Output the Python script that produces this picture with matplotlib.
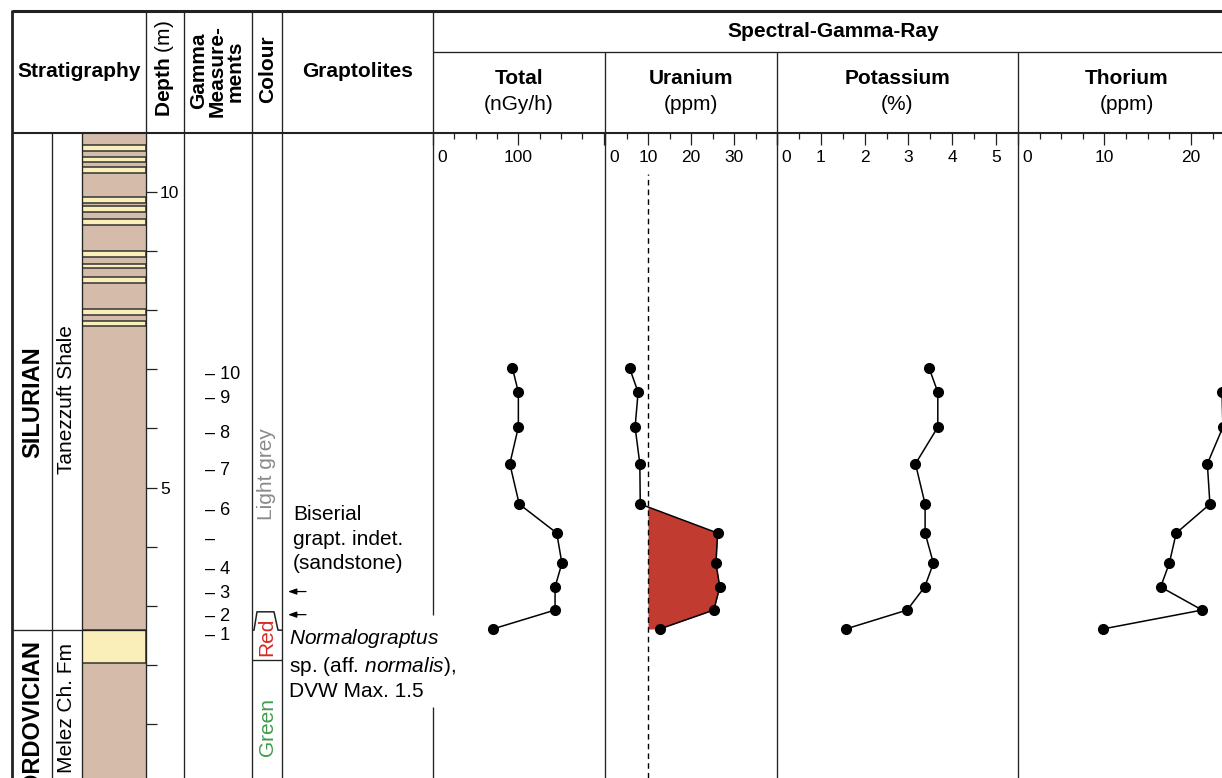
import numpy as np
import matplotlib
matplotlib.use("Agg")
import matplotlib.pyplot as plt
import matplotlib.transforms as mtransforms

plt.rcParams["font.family"] = ["Liberation Sans", "DejaVu Sans"]
plt.rcParams["mathtext.fontset"] = "custom"
plt.rcParams["mathtext.rm"] = "Liberation Sans"
plt.rcParams["mathtext.it"] = "Liberation Sans:italic"
plt.rcParams["mathtext.bf"] = "Liberation Sans:bold"

# gamma measurements, listed from the lowest (1) to the highest (10)
sample_labels = ["1", "2", "3", "4", "", "6", "7", "8", "9", "10"]
sample_depth = [2.61, 2.93, 3.32, 3.72, 4.23, 4.72, 5.40, 6.02, 6.61, 7.02]
total = [70, 143, 143, 151, 145, 101, 90, 100, 100, 93]
uranium = [12.7, 25.3, 26.7, 25.8, 26.2, 8.2, 8.1, 7.0, 7.7, 5.7]
potassium = [1.57, 2.97, 3.37, 3.57, 3.38, 3.38, 3.16, 3.67, 3.67, 3.47]
thorium = [9.8, 21.3, 16.5, 17.5, 18.3, 22.2, 21.9, 23.7, 23.6, 24.5]
arrow_samples = ["3", "2"]
uranium_threshold = 10
uranium_threshold_top = 10.3

# lithology: sandstone beds (bottom, top) in m, rest is shale
sand_beds = [(10.69, 10.79), (10.49, 10.59), (10.32, 10.42), (9.81, 9.90),
             (9.65, 9.75), (9.44, 9.54), (8.90, 8.99), (8.70, 8.78),
             (8.46, 8.56), (7.92, 8.02), (7.72, 7.82), (2.04, 2.59)]
boundary_depth = 2.59
era_names = ["ORDOVICIAN", "SILURIAN"]
era_label_depth = [1.15, 6.44]
formation_names = ["Melez Ch. Fm", "Tanezzuft Shale"]
formation_label_depth = [1.28, 6.48]
depth_major = [0, 5, 10]

colour_names = ["Green", "Red", "Light grey"]
colour_values = ["#3f9d4b", "#d42b22", "#8a8a8a"]
colour_label_depth = [0.96, 2.47, 5.23]
red_base = 2.09
red_top = 2.90

note_biserial = "Biserial\ngrapt. indet.\n(sandstone)"
note_biserial_depth = 4.13
note_normalo = "$\\mathit{Normalograptus}$\nsp. (aff. $\\mathit{normalis}$),\nDVW Max. 1.5"
note_normalo_depth = 2.02

W, H, DPI = 1222, 778, 100
HEAD_TOP, HEAD_MID, HEAD_BOT = 11, 52, 133
PX_PER_M = 59.2
DEPTH_ZERO_PX = 783.5
DEPTH_TOP = (DEPTH_ZERO_PX - HEAD_BOT) / PX_PER_M
DEPTH_BOTTOM = (DEPTH_ZERO_PX - H) / PX_PER_M

LINE = "#222222"
THIN = 0.95
SHALE = "#d5bcaa"
SAND = "#faefb9"

fig = plt.figure(figsize=(W / DPI, H / DPI), dpi=DPI)


def column_axes(x0, x1):
    ax = fig.add_axes([x0 / W, 0, (x1 - x0) / W, (H - HEAD_BOT) / H])
    ax.patch.set_visible(False)
    for s in ax.spines.values():
        s.set_visible(False)
    return ax


# lithology column with depth scale
lith = column_axes(82, 146)
lith.axhspan(DEPTH_BOTTOM, DEPTH_TOP, color=SHALE, lw=0)
for bottom, top in sand_beds:
    lith.axhspan(bottom, top, facecolor=SAND, edgecolor="#333333", lw=1.1)
lith.set_xticks([])
lith.yaxis.tick_right()
lith.set_yticks(depth_major)
lith.set_yticks([d for d in range(11) if d % 5], minor=True)
lith.tick_params(axis="y", which="both", direction="out", length=8, width=0.9,
                 labelsize=12.5, pad=2, color=LINE)
# set_yticks widens the view, so fix the depth range afterwards
lith.set_ylim(DEPTH_BOTTOM, DEPTH_TOP)

# spectral gamma ray panels
panels = [
    (433, 605, (0, 201.5), total, [0, 100, 200], np.arange(25, 200, 25), [0, 100]),
    (605, 777, (0, 40), uranium, [0, 10, 20, 30, 40], [5, 15, 25, 35], [0, 10, 20, 30]),
    (777, 1018, (0, 5.5), potassium, [0, 1, 2, 3, 4, 5], np.arange(0.5, 5.5, 1), [0, 1, 2, 3, 4, 5]),
    (1018, 1235, (0, 25.1), thorium, [0, 10, 20], [2.5, 5, 7.5, 12.5, 15, 17.5, 22.5, 25], [0, 10, 20]),
]
panel_axes = []
for x0, x1, xlim, values, major, minor, labels in panels:
    ax = column_axes(x0, x1)
    ax.set_yticks([])
    ax.set_xticks(major)
    ax.set_xticks(minor, minor=True)
    ax.set_xlim(*xlim)
    ax.set_ylim(DEPTH_BOTTOM, DEPTH_TOP)
    ax.tick_params(axis="x", which="both", top=True, bottom=False, labeltop=False,
                   labelbottom=False, direction="in", width=0.9, color=LINE)
    ax.tick_params(axis="x", which="major", length=8.6)
    ax.tick_params(axis="x", which="minor", length=4.3)
    lab_tr = mtransforms.offset_copy(ax.get_xaxis_transform(), fig=fig, y=-23, units="dots")
    zero_tr = mtransforms.offset_copy(ax.get_xaxis_transform(), fig=fig, x=4.4, y=-23, units="dots")
    for v in labels:
        if v == 0:
            ax.text(v, 1, "0", transform=zero_tr, ha="left", va="center_baseline", fontsize=12.5)
        else:
            ax.text(v, 1, f"{v:g}", transform=lab_tr, ha="center", va="center_baseline", fontsize=12.5)
    ax.plot(values, sample_depth, "-o", color="black", lw=1.1, ms=7, zorder=3)
    panel_axes.append(ax)

ax_u = panel_axes[1]
u = np.array(uranium)
ax_u.fill_betweenx(sample_depth, uranium_threshold, u, where=u > uranium_threshold,
                   interpolate=True, color="#c23b31", lw=0, zorder=1)
ax_u.plot([uranium_threshold, uranium_threshold], [DEPTH_BOTTOM, uranium_threshold_top],
          ls=(0, (4, 3)), lw=1, color="black", zorder=2)

# table frame, headers and depth-bound annotations
bg = fig.add_axes([0, 0, 1, 1], zorder=5)
bg.set_xlim(0, W)
bg.set_ylim(H, 0)
bg.autoscale(False)
bg.axis("off")
depth_tr = mtransforms.blended_transform_factory(bg.transData, lith.transData)


def seg(xs, ys, lw=THIN, **kw):
    bg.plot(xs, ys, color=LINE, lw=lw, solid_capstyle="butt", **kw)


seg([12, W], [HEAD_TOP, HEAD_TOP], lw=2.2)
seg([12, 12], [HEAD_TOP - 1, H], lw=2.0)
seg([12, W], [HEAD_BOT, HEAD_BOT], lw=1.5)
seg([433, W], [HEAD_MID, HEAD_MID])
for x in [146, 184, 252, 282]:
    seg([x, x], [HEAD_TOP, H])
for x in [52, 82]:
    seg([x, x], [HEAD_BOT, H])
for x in [605, 777, 1018]:
    seg([x, x], [HEAD_MID, H])
seg([433, 433], [HEAD_TOP, 615])
seg([433, 433], [707, H])

seg([12, 146], [boundary_depth, boundary_depth], transform=depth_tr)
seg([252, 282], [red_base, red_base], transform=depth_tr)
seg([252, 254, 257, 274, 278, 282],
    [boundary_depth, boundary_depth, red_top, red_top, boundary_depth, boundary_depth],
    lw=1.1, transform=depth_tr)

# depth 0 sits just below the cut edge, only its top shows
bg.text(159, depth_major[0], "0", transform=depth_tr, ha="left",
        va="center_baseline", fontsize=12.5)

hb = dict(fontsize=15, fontweight="bold", ha="center", va="center")
bg.text(79.5, 71, "Stratigraphy", **hb)
bg.text(165, 69, "$\\mathbf{Depth}$ (m)", rotation=90, fontsize=15, ha="center", va="center")
bg.text(217, 71, "Gamma\nMeasure-\nments", rotation=90, linespacing=0.95,
        multialignment="center", **hb)
bg.text(268, 69, "Colour", rotation=90, **hb)
bg.text(357.5, 71, "Graptolites", **hb)
bg.text(833, 31, "Spectral-Gamma-Ray", **hb)
for (x0, x1), name, unit in zip([(433, 605), (605, 777), (777, 1018), (1018, 1235)],
                                ["Total", "Uranium", "Potassium", "Thorium"],
                                ["(nGy/h)", "(ppm)", "(%)", "(ppm)"]):
    bg.text((x0 + x1) / 2, 78, name, **hb)
    bg.text((x0 + x1) / 2, 104, unit, fontsize=15, ha="center", va="center")

for name, d in zip(era_names, era_label_depth):
    bg.text(33, d, name, transform=depth_tr, rotation=90, fontsize=17,
            fontweight="bold", ha="center", va="center")
for name, d in zip(formation_names, formation_label_depth):
    bg.text(67, d, name, transform=depth_tr, rotation=90, fontsize=15,
            ha="center", va="center")

lab_tr = mtransforms.offset_copy(depth_tr, fig=fig, y=-4.6, units="dots")
for lab, d in zip(sample_labels, sample_depth):
    bg.text(205, d, f"\u2013 {lab}".rstrip(), transform=lab_tr, ha="left",
            va="center_baseline", fontsize=13)
for lab in arrow_samples:
    d = sample_depth[sample_labels.index(lab)]
    bg.annotate("", xy=(288, d), xycoords=lab_tr, xytext=(306, d), textcoords=lab_tr,
                arrowprops=dict(arrowstyle="-|>,head_length=0.5,head_width=0.18",
                                color="black", lw=0.9, mutation_scale=10,
                                shrinkA=0, shrinkB=0))

for name, col, d in zip(colour_names, colour_values, colour_label_depth):
    bg.text(267, d, name, transform=depth_tr, rotation=90, color=col, fontsize=15,
            ha="center", va="center")

bg.text(293, note_biserial_depth, note_biserial, transform=depth_tr, fontsize=15,
        ha="left", va="center", linespacing=1.36)
bg.text(289, note_normalo_depth, note_normalo, transform=depth_tr, fontsize=15,
        ha="left", va="center", linespacing=1.3)

fig.savefig("out.png", dpi=DPI)
